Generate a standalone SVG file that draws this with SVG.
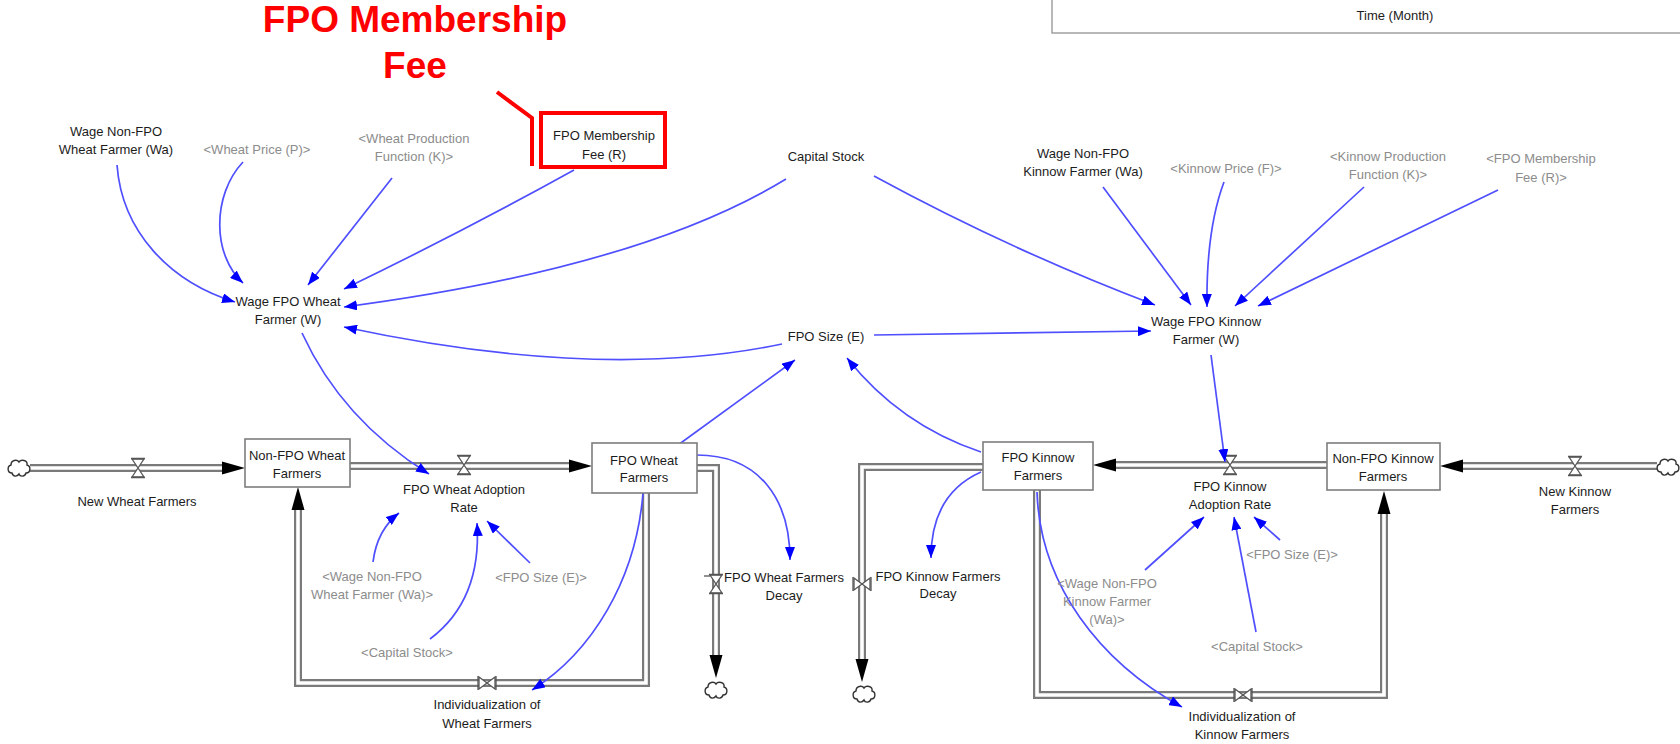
<svg xmlns="http://www.w3.org/2000/svg" xmlns:xlink="http://www.w3.org/1999/xlink" width="1680" height="744" viewBox="0 0 1680 744">
  <style>
    text { font-family: "Liberation Sans", Arial, sans-serif; font-size: 13px; text-anchor: middle; fill: #1c1c1c; }
    .ghost { fill: #8c8c8c; }
    .stock { fill: #ffffff; stroke: #7d7d7d; stroke-width: 1.6; }
    .link { fill: none; stroke: #4f4fff; stroke-width: 1.7; marker-end: url(#linkhead); }
    .pipe-out { fill: none; stroke: #7a7a7a; stroke-width: 8; stroke-linejoin: miter; }
    .pipe-in { fill: none; stroke: #ffffff; stroke-width: 3.6; stroke-linejoin: miter; }
    .valve { fill: #ffffff; stroke: #555555; stroke-width: 1.3; }
    .cloud { fill: #ffffff; stroke: #333333; stroke-width: 1.4; }
    .flowhead { fill: #000000; }
    .note { font-size: 37px; font-weight: bold; fill: #ff0000; }
    .callout { fill: none; stroke: #ff0000; stroke-width: 4; }
    .axis { fill: #ffffff; stroke: #9a9a9a; stroke-width: 1.4; }
  </style>
  <defs>
    <marker id="linkhead" markerUnits="userSpaceOnUse" markerWidth="14" markerHeight="10" refX="13" refY="5" orient="auto">
      <path d="M0,0 L13,5 L0,10 z" fill="#0000ff"/>
    </marker>
    <!-- black flow arrowhead, tip at origin, pointing +x -->
    <path id="flowhead" class="flowhead" d="M-23,-6.5 L0,0 L-23,6.5 z"/>
    <!-- valve drawn across a horizontal pipe -->
    <g id="valve-h">
      <path class="valve" d="M-6,-9 L6,-9 L-6,9 L6,9 z"/>
      <path d="M-7,-9.5 H7 M-7,9.5 H7" stroke="#555" stroke-width="1.3"/>
    </g>
    <!-- sideways bowtie valve -->
    <g id="valve-b">
      <path class="valve" d="M-8,-6 L8,6 L8,-6 L-8,6 z"/>
      <path d="M-9,-7 V7 M9,-7 V7" stroke="#555" stroke-width="1.3"/>
    </g>
    <path id="cloud" class="cloud" d="M-7,5 C-12,5 -12,-2 -8,-3 C-8,-8 -2,-9 0,-6 C2,-9 9,-8 8,-3 C12,-2 12,5 7,5 C6,9 1,9 0,6 C-2,9 -6,9 -7,5 z"/>
  </defs>

  <rect width="1680" height="744" fill="#ffffff"/>

  <!-- time axis caption box -->
  <g id="time-axis">
    <rect class="axis" x="1052" y="-10" width="640" height="43"/>
    <text x="1395" y="20">Time (Month)</text>
  </g>

  <!-- callout for the membership fee -->
  <g id="fee-callout">
    <text class="note" x="415" y="32">FPO Membership</text>
    <text class="note" x="415" y="78">Fee</text>
    <path class="callout" d="M497,92 L532,118 L532,166"/>
  </g>

  <g id="connectors">
    <!-- material flows (pipes) -->
    <g id="flows">
      <path class="pipe-out" d="M30,468 H223"/>
      <path class="pipe-in" d="M30,468 H223"/>
      <path class="pipe-out" d="M350,466 H570"/>
      <path class="pipe-in" d="M349,466 H570"/>
      <path class="pipe-out" d="M697,468 H716 V656"/>
      <path class="pipe-in" d="M696,468 H716 V656"/>
      <path class="pipe-out" d="M646,493 V683 H298 V510"/>
      <path class="pipe-in" d="M646,492 V683 H298 V510"/>
      <path class="pipe-out" d="M1327,465 H1116"/>
      <path class="pipe-in" d="M1328,465 H1116"/>
      <path class="pipe-out" d="M1657,466 H1463"/>
      <path class="pipe-in" d="M1657,466 H1463"/>
      <path class="pipe-out" d="M983,467 H862 V660"/>
      <path class="pipe-in" d="M984,467 H862 V660"/>
      <path class="pipe-out" d="M1037,490 V695 H1384 V514"/>
      <path class="pipe-in" d="M1037,489 V695 H1384 V514"/>

      <use xlink:href="#flowhead" transform="translate(245,468)"/>
      <use xlink:href="#flowhead" transform="translate(592,466)"/>
      <use xlink:href="#flowhead" transform="translate(716,678) rotate(90)"/>
      <use xlink:href="#flowhead" transform="translate(298,487) rotate(-90)"/>
      <use xlink:href="#flowhead" transform="translate(1093,465) rotate(180)"/>
      <use xlink:href="#flowhead" transform="translate(1440,466) rotate(180)"/>
      <use xlink:href="#flowhead" transform="translate(862,682) rotate(90)"/>
      <use xlink:href="#flowhead" transform="translate(1384,491) rotate(-90)"/>

      <use xlink:href="#valve-h" transform="translate(138,468)"/>
      <use xlink:href="#valve-h" transform="translate(464,465)"/>
      <use xlink:href="#valve-h" transform="translate(716,584)"/>
      <path d="M704,576 H710" stroke="#555" stroke-width="1.3"/>
      <use xlink:href="#valve-b" transform="translate(487,683)"/>
      <use xlink:href="#valve-h" transform="translate(1230,465)"/>
      <use xlink:href="#valve-h" transform="translate(1575,466)"/>
      <use xlink:href="#valve-b" transform="translate(862,584)"/>
      <use xlink:href="#valve-b" transform="translate(1243,695)"/>

      <use xlink:href="#cloud" transform="translate(19,468)"/>
      <use xlink:href="#cloud" transform="translate(716,690)"/>
      <use xlink:href="#cloud" transform="translate(864,694)"/>
      <use xlink:href="#cloud" transform="translate(1668,467)"/>
    </g>

    <!-- information links -->
    <g id="links">
      <path class="link" d="M117,165 C122,232 170,282 235,302"/>
      <path class="link" d="M243,162 C212,195 212,255 243,283"/>
      <path class="link" d="M392,178 L308,285"/>
      <path class="link" d="M574,170 Q462,232 344,289"/>
      <path class="link" d="M786,179 Q640,268 344,307"/>
      <path class="link" d="M782,344 Q600,382 344,327"/>
      <path class="link" d="M874,176 Q1010,250 1155,305"/>
      <path class="link" d="M874,335 L1151,331"/>
      <path class="link" d="M1103,187 L1191,305"/>
      <path class="link" d="M1224,182 Q1206,230 1207,307"/>
      <path class="link" d="M1364,187 L1235,306"/>
      <path class="link" d="M1498,190 L1258,306"/>
      <path class="link" d="M302,333 Q342,420 429,474"/>
      <path class="link" d="M1211,355 L1225,462"/>
      <path class="link" d="M678,445 L795,360"/>
      <path class="link" d="M981,452 Q900,425 847,358"/>
      <path class="link" d="M697,455 C760,455 790,500 790,560"/>
      <path class="link" d="M981,472 C945,488 931,520 931,558"/>
      <path class="link" d="M643,493 C636,580 592,652 532,690"/>
      <path class="link" d="M1037,492 C1040,585 1100,662 1182,707"/>
      <path class="link" d="M373,562 Q377,530 399,513"/>
      <path class="link" d="M430,639 Q482,600 477,523"/>
      <path class="link" d="M530,563 L487,521"/>
      <path class="link" d="M1145,570 L1204,517"/>
      <path class="link" d="M1256,632 L1234,517"/>
      <path class="link" d="M1280,540 L1254,517"/>
    </g>
  </g>

  <!-- top row auxiliaries -->
  <g id="wage-nonfpo-wheat">
    <text x="116" y="136">Wage Non-FPO</text>
    <text x="116" y="154">Wheat Farmer (Wa)</text>
  </g>
  <g id="wheat-price-ref">
    <text class="ghost" x="257" y="154">&lt;Wheat Price (P)&gt;</text>
  </g>
  <g id="wheat-production-ref">
    <text class="ghost" x="414" y="143">&lt;Wheat Production</text>
    <text class="ghost" x="414" y="161">Function (K)&gt;</text>
  </g>
  <g id="fpo-membership-fee">
    <rect class="callout" x="541" y="113" width="124" height="54"/>
    <text x="604" y="140">FPO Membership</text>
    <text x="604" y="159">Fee (R)</text>
  </g>
  <g id="capital-stock">
    <text x="826" y="161">Capital Stock</text>
  </g>
  <g id="wage-nonfpo-kinnow">
    <text x="1083" y="158">Wage Non-FPO</text>
    <text x="1083" y="176">Kinnow Farmer (Wa)</text>
  </g>
  <g id="kinnow-price-ref">
    <text class="ghost" x="1226" y="173">&lt;Kinnow Price (F)&gt;</text>
  </g>
  <g id="kinnow-production-ref">
    <text class="ghost" x="1388" y="161">&lt;Kinnow Production</text>
    <text class="ghost" x="1388" y="179">Function (K)&gt;</text>
  </g>
  <g id="membership-fee-ref">
    <text class="ghost" x="1541" y="163">&lt;FPO Membership</text>
    <text class="ghost" x="1541" y="182">Fee (R)&gt;</text>
  </g>

  <!-- middle row -->
  <g id="wage-fpo-wheat">
    <text x="288" y="306">Wage FPO Wheat</text>
    <text x="288" y="324">Farmer (W)</text>
  </g>
  <g id="fpo-size">
    <text x="826" y="341">FPO Size (E)</text>
  </g>
  <g id="wage-fpo-kinnow">
    <text x="1206" y="326">Wage FPO Kinnow</text>
    <text x="1206" y="344">Farmer (W)</text>
  </g>

  <!-- wheat chain -->
  <g id="new-wheat-farmers">
    <text x="137" y="506">New Wheat Farmers</text>
  </g>
  <g id="nonfpo-wheat-farmers">
    <rect class="stock" x="245" y="439" width="105" height="48"/>
    <text x="297" y="460">Non-FPO Wheat</text>
    <text x="297" y="478">Farmers</text>
  </g>
  <g id="fpo-wheat-adoption-rate">
    <text x="464" y="494">FPO Wheat Adoption</text>
    <text x="464" y="512">Rate</text>
  </g>
  <g id="fpo-wheat-farmers">
    <rect class="stock" x="592" y="443" width="105" height="50"/>
    <text x="644" y="465">FPO Wheat</text>
    <text x="644" y="482">Farmers</text>
  </g>
  <g id="wage-nonfpo-wheat-ref">
    <text class="ghost" x="372" y="581">&lt;Wage Non-FPO</text>
    <text class="ghost" x="372" y="599">Wheat Farmer (Wa)&gt;</text>
  </g>
  <g id="fpo-size-ref-wheat">
    <text class="ghost" x="541" y="582">&lt;FPO Size (E)&gt;</text>
  </g>
  <g id="capital-stock-ref-wheat">
    <text class="ghost" x="407" y="657">&lt;Capital Stock&gt;</text>
  </g>
  <g id="wheat-individualization">
    <text x="487" y="709">Individualization of</text>
    <text x="487" y="728">Wheat Farmers</text>
  </g>
  <g id="fpo-wheat-decay">
    <text x="784" y="582">FPO Wheat Farmers</text>
    <text x="784" y="600">Decay</text>
  </g>

  <!-- kinnow chain -->
  <g id="fpo-kinnow-decay">
    <text x="938" y="581">FPO Kinnow Farmers</text>
    <text x="938" y="598">Decay</text>
  </g>
  <g id="fpo-kinnow-farmers">
    <rect class="stock" x="983" y="442" width="110" height="48"/>
    <text x="1038" y="462">FPO Kinnow</text>
    <text x="1038" y="480">Farmers</text>
  </g>
  <g id="fpo-kinnow-adoption-rate">
    <text x="1230" y="491">FPO Kinnow</text>
    <text x="1230" y="509">Adoption Rate</text>
  </g>
  <g id="nonfpo-kinnow-farmers">
    <rect class="stock" x="1327" y="443" width="113" height="47"/>
    <text x="1383" y="463">Non-FPO Kinnow</text>
    <text x="1383" y="481">Farmers</text>
  </g>
  <g id="new-kinnow-farmers">
    <text x="1575" y="496">New Kinnow</text>
    <text x="1575" y="514">Farmers</text>
  </g>
  <g id="fpo-size-ref-kinnow">
    <text class="ghost" x="1292" y="559">&lt;FPO Size (E)&gt;</text>
  </g>
  <g id="wage-nonfpo-kinnow-ref">
    <text class="ghost" x="1107" y="588">&lt;Wage Non-FPO</text>
    <text class="ghost" x="1107" y="606">Kinnow Farmer</text>
    <text class="ghost" x="1107" y="624">(Wa)&gt;</text>
  </g>
  <g id="capital-stock-ref-kinnow">
    <text class="ghost" x="1257" y="651">&lt;Capital Stock&gt;</text>
  </g>
  <g id="kinnow-individualization">
    <text x="1242" y="721">Individualization of</text>
    <text x="1242" y="739">Kinnow Farmers</text>
  </g>
</svg>
